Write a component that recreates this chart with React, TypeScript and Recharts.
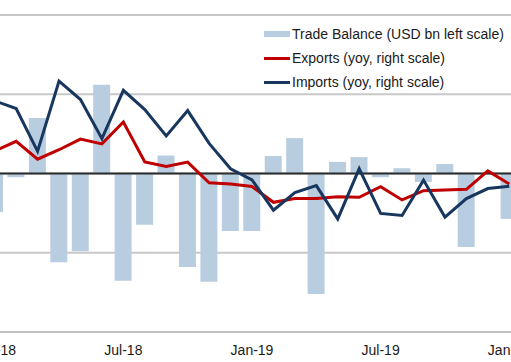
import React from 'react';
import {
  ComposedChart, Bar, Line, XAxis, YAxis, CartesianGrid, ReferenceLine, Legend,
} from 'recharts';

const months = [
  'Jan-18', 'Feb-18', 'Mar-18', 'Apr-18', 'May-18', 'Jun-18', 'Jul-18', 'Aug-18', 'Sep-18', 'Oct-18', 'Nov-18', 'Dec-18',
  'Jan-19', 'Feb-19', 'Mar-19', 'Apr-19', 'May-19', 'Jun-19', 'Jul-19', 'Aug-19', 'Sep-19', 'Oct-19', 'Nov-19', 'Dec-19',
  'Jan-20',
];

const tradeBalance = [
  -0.73, -0.07, 1.05, -1.68, -1.47, 1.68, -2.03, -0.97, 0.34, -1.77, -2.05, -1.09,
  -1.09, 0.33, 0.67, -2.28, 0.22, 0.31, -0.07, 0.1, -0.16, 0.18, -1.39, -0.02,
  -0.86,
];

const exportsYoy = [
  8.5, 12.2, 5.4, 9.0, 13.0, 11.2, 19.5, 4.4, 2.7, 4.3, -3.5, -4.0,
  -4.9, -10.9, -9.5, -9.5, -8.8, -9.0, -5.0, -10.0, -6.5, -6.2, -6.0, 1.0,
  -4.0,
];

const importsYoy = [
  27.5, 24.6, 8.4, 35.0, 28.0, 13.2, 31.5, 24.2, 14.2, 23.8, 11.4, 1.8,
  -2.4, -13.9, -7.2, -4.6, -17.2, 1.8, -15.1, -15.9, -2.5, -16.5, -9.5, -5.7,
  -4.8,
];

const xTicks = ['Jan-18', 'Jul-18', 'Jan-19', 'Jul-19', 'Jan-20'];
const leftTicks = [-3, -1.5, 0, 1.5, 3];
const rightTicks = [-60, -30, 0, 30, 60];

const legendItems = [
  { label: 'Trade Balance (USD bn left scale)', kind: 'bar', color: '#B9CDE1' },
  { label: 'Exports (yoy, right scale)', kind: 'line', color: '#C00000' },
  { label: 'Imports (yoy, right scale)', kind: 'line', color: '#17375E' },
];

const data = months.map((m, i) => ({
  month: m,
  balance: tradeBalance[i],
  exports: exportsYoy[i],
  imports: importsYoy[i],
}));

const FONT = '"Liberation Sans", Arial, sans-serif';

const renderLegend = () => (
  <div style={{ fontFamily: FONT, fontSize: 14, color: '#1a1a1a' }}>
    {legendItems.map((it) => (
      <div key={it.label} style={{ height: 24, lineHeight: '24px', display: 'flex', alignItems: 'center', whiteSpace: 'nowrap' }}>
        <span style={{ display: 'inline-block', width: 26, marginRight: 2, height: it.kind === 'bar' ? 6 : 3, background: it.color }} />
        <span>{it.label}</span>
      </div>
    ))}
  </div>
);

export default function App() {
  return (
    <div style={{ position: 'absolute', left: 0, top: 0, width: 511, height: 362, overflow: 'hidden', background: '#fff' }}>
      <div style={{ position: 'absolute', left: -16, top: 0 }}>
        <ComposedChart width={536} height={362} data={data} margin={{ top: 15, right: 0, left: 0, bottom: 0 }} barCategoryGap={4}>
          <CartesianGrid yAxisId="left" vertical={false} stroke="#C8C8C8" strokeWidth={2} />
          <XAxis
            dataKey="month"
            ticks={xTicks}
            interval={0}
            tickLine={false}
            tickSize={0}
            tickMargin={13}
            height={30}
            axisLine={{ stroke: '#C0C0C0', strokeWidth: 2 }}
            tick={{ fill: '#1a1a1a', fontSize: 14, fontFamily: FONT }}
          />
          <YAxis yAxisId="left" hide domain={[-3, 3]} ticks={leftTicks} />
          <YAxis yAxisId="right" hide orientation="right" domain={[-60, 60]} ticks={rightTicks} />
          <Legend layout="vertical" align="center" verticalAlign="middle" content={renderLegend}
            wrapperStyle={{ position: 'absolute', left: 280, top: 22, width: 240 }} />
          <Bar yAxisId="left" dataKey="balance" fill="#B9CDE1" barSize={17} isAnimationActive={false} />
          <ReferenceLine yAxisId="left" y={0} stroke="#2b2b2b" strokeWidth={2} />
          <Line yAxisId="right" type="linear" dataKey="exports" stroke="#C00000" strokeWidth={3} dot={false} isAnimationActive={false} />
          <Line yAxisId="right" type="linear" dataKey="imports" stroke="#17375E" strokeWidth={3} dot={false} isAnimationActive={false} />
        </ComposedChart>
      </div>
    </div>
  );
}
